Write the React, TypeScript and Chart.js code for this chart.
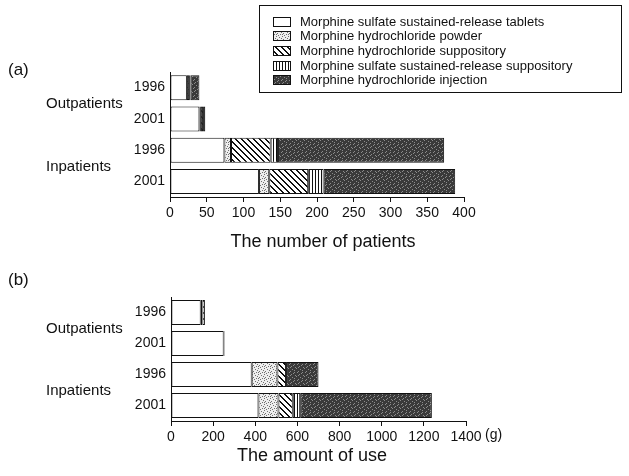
import React, { useEffect, useRef } from 'react';
import { Chart, registerables } from 'chart.js';
Chart.register(...registerables);

const categories = ['1996', '2001', '1996', '2001'];
const groupLabels = ['Outpatients', 'Inpatients'];
const seriesNames = [
  'Morphine sulfate sustained-release tablets',
  'Morphine hydrochloride powder',
  'Morphine hydrochloride suppository',
  'Morphine sulfate sustained-release suppository',
  'Morphine hydrochloride injection',
];

// (a) number of patients
const patientsTablets = [23, 40, 74, 121];
const patientsPowder = [3, 2, 9, 14];
const patientsSuppository = [2, 3, 54, 53];
const patientsSulfateSupp = [0, 3, 10, 21];
const patientsInjection = [12, 0, 226, 179];
const patientsMax = 400;
const patientsStep = 50;

// (b) amount of use (g)
const amountTablets = [141, 250, 383, 415];
const amountPowder = [8, 0, 122, 95];
const amountSuppository = [12, 4, 41, 68];
const amountSulfateSupp = [0, 0, 0, 35];
const amountInjection = [0, 0, 154, 625];
const amountMax = 1400;
const amountStep = 200;

const FONT = '"Liberation Sans", Arial, Helvetica, sans-serif';

function makeFills(): any[] {
  const mk = (w: number, h: number, draw: (ctx: CanvasRenderingContext2D) => void) => {
    const c = document.createElement('canvas');
    c.width = w;
    c.height = h;
    const ctx = c.getContext('2d')!;
    draw(ctx);
    const tmp = document.createElement('canvas').getContext('2d')!;
    return tmp.createPattern(c, 'repeat');
  };
  const white = '#ffffff';
  const powder = mk(6, 6, (ctx) => {
    ctx.fillStyle = '#eeeeee';
    ctx.fillRect(0, 0, 6, 6);
    ctx.fillStyle = '#707070';
    [[0, 0], [3, 1], [5, 2], [1, 3], [4, 4], [2, 5], [0, 4]].forEach(([x, y]) => ctx.fillRect(x, y, 1, 1));
  });
  const diag = mk(6, 6, (ctx) => {
    ctx.fillStyle = '#ffffff';
    ctx.fillRect(0, 0, 6, 6);
    ctx.fillStyle = '#111111';
    for (let y = 0; y < 6; y++)
      for (let x = 0; x < 6; x++) if ((x - y + 12) % 6 < 2) ctx.fillRect(x, y, 1, 1);
  });
  const vert = mk(3, 3, (ctx) => {
    ctx.fillStyle = '#ffffff';
    ctx.fillRect(0, 0, 3, 3);
    ctx.fillStyle = '#111111';
    ctx.fillRect(0, 0, 1, 3);
  });
  const inj = mk(8, 8, (ctx) => {
    ctx.fillStyle = '#3a3a3a';
    ctx.fillRect(0, 0, 8, 8);
    ctx.fillStyle = '#8c8c8c';
    [[1, 0], [5, 1], [3, 2], [7, 3], [0, 4], [4, 5], [6, 6], [2, 7], [6, 0], [2, 3]].forEach(([x, y]) =>
      ctx.fillRect(x, y, 1, 1)
    );
  });
  return [white, powder, diag, vert, inj];
}

function buildChart(
  canvas: HTMLCanvasElement,
  values: number[][],
  max: number,
  step: number,
  geom: { top: number; axisY: number; left: number; right: number; height: number },
  extra: (chart: any, fills: any[]) => void
) {
  const fills = makeFills();
  const datasets = values.map((v, i) => ({
    label: seriesNames[i],
    data: v,
    backgroundColor: fills[i],
    borderColor: '#111111',
    borderWidth: 1,
    borderSkipped: false,
    barPercentage: 0.8,
    categoryPercentage: 1.0,
  }));
  const plugin = {
    id: 'extras',
    afterDraw(chart: any) {
      extra(chart, fills);
    },
  };
  return new Chart(canvas, {
    type: 'bar',
    data: { labels: categories, datasets },
    plugins: [plugin],
    options: {
      indexAxis: 'y',
      responsive: false,
      maintainAspectRatio: false,
      animation: false,
      layout: { padding: { top: geom.top, right: 629 - geom.right, left: 0, bottom: 0 } },
      plugins: { legend: { display: false }, tooltip: { enabled: false }, title: { display: false } },
      scales: {
        x: {
          stacked: true,
          min: 0,
          max,
          ticks: {
            stepSize: step,
            color: '#111',
            font: { family: FONT, size: 14 },
            padding: 3,
            maxRotation: 0,
            callback: (v: any) => String(v),
          },
          grid: { display: true, drawOnChartArea: false, drawTicks: true, tickLength: 5, color: '#111' },
          border: { display: true, color: '#111', width: 1 },
          afterFit: (s: any) => {
            s.height = geom.height - geom.axisY;
          },
        },
        y: {
          stacked: true,
          ticks: { color: '#111', font: { family: FONT, size: 14 }, padding: 5 },
          grid: { display: false, drawTicks: false, tickLength: 0 },
          border: { display: true, color: '#111', width: 1 },
          afterFit: (s: any) => {
            s.width = geom.left;
          },
        },
      },
    } as any,
  });
}

function drawGroupLabels(chart: any) {
  const ctx = chart.ctx;
  const y = chart.scales.y;
  ctx.save();
  ctx.fillStyle = '#111';
  ctx.font = `15px ${FONT}`;
  ctx.textAlign = 'left';
  ctx.textBaseline = 'middle';
  const m1 = (y.getPixelForValue(0) + y.getPixelForValue(1)) / 2 + 1;
  const m2 = (y.getPixelForValue(2) + y.getPixelForValue(3)) / 2 + 1;
  ctx.fillText(groupLabels[0], 46, m1);
  ctx.fillText(groupLabels[1], 46, m2);
  ctx.restore();
}

export default function App() {
  const refA = useRef<HTMLCanvasElement>(null);
  const refB = useRef<HTMLCanvasElement>(null);

  useEffect(() => {
    const chartA = buildChart(
      refA.current!,
      [patientsTablets, patientsPowder, patientsSuppository, patientsSulfateSupp, patientsInjection],
      patientsMax,
      patientsStep,
      { top: 72, axisY: 197, left: 170, right: 464, height: 260 },
      (chart, fills) => {
        const ctx = chart.ctx;
        drawGroupLabels(chart);
        ctx.save();
        ctx.fillStyle = '#111';
        ctx.font = `17px ${FONT}`;
        ctx.textBaseline = 'middle';
        ctx.textAlign = 'left';
        ctx.fillText('(a)', 8, 70);
        ctx.font = `18px ${FONT}`;
        ctx.textAlign = 'center';
        ctx.fillText('The number of patients', 323, 242);
        // legend
        ctx.strokeStyle = '#111';
        ctx.lineWidth = 1;
        ctx.strokeRect(259.5, 5.5, 362, 87);
        ctx.font = `13px ${FONT}`;
        ctx.textAlign = 'left';
        seriesNames.forEach((name, i) => {
          const cy = 21 + i * 14.7;
          ctx.fillStyle = fills[i];
          ctx.fillRect(273, Math.round(cy - 4.5), 17, 9);
          ctx.strokeRect(273.5, Math.round(cy - 4.5) + 0.5, 17, 9);
          ctx.fillStyle = '#111';
          ctx.fillText(name, 300, cy + 1);
        });
        ctx.restore();
      }
    );
    const chartB = buildChart(
      refB.current!,
      [amountTablets, amountPowder, amountSuppository, amountSulfateSupp, amountInjection],
      amountMax,
      amountStep,
      { top: 37, axisY: 161, left: 171, right: 466, height: 216 },
      (chart) => {
        const ctx = chart.ctx;
        drawGroupLabels(chart);
        ctx.save();
        ctx.fillStyle = '#111';
        ctx.font = `17px ${FONT}`;
        ctx.textBaseline = 'middle';
        ctx.textAlign = 'left';
        ctx.fillText('(b)', 8, 20);
        ctx.font = `14px ${FONT}`;
        ctx.fillText('(g)', 485, 175);
        ctx.font = `18px ${FONT}`;
        ctx.textAlign = 'center';
        ctx.fillText('The amount of use', 312, 196);
        ctx.restore();
      }
    );
    return () => {
      chartA.destroy();
      chartB.destroy();
    };
  }, []);

  return (
    <div style={{ position: 'absolute', left: 0, top: 0, width: 629, height: 476, background: '#fff' }}>
      <canvas ref={refA} width={629} height={260} style={{ position: 'absolute', left: 0, top: 0, width: 629, height: 260 }} />
      <canvas ref={refB} width={629} height={216} style={{ position: 'absolute', left: 0, top: 260, width: 629, height: 216 }} />
    </div>
  );
}
